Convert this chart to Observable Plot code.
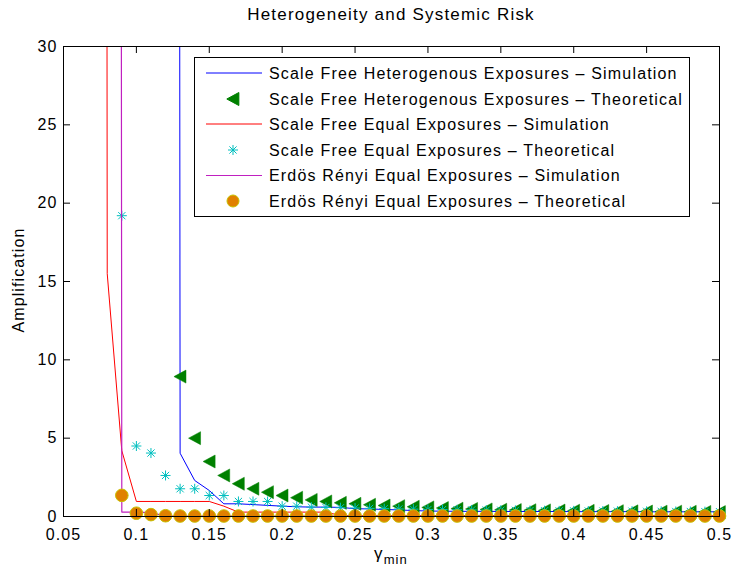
<!DOCTYPE html>
<html><head><meta charset="utf-8">
<script src="https://cdn.jsdelivr.net/npm/d3@7"></script>
<script src="https://cdn.jsdelivr.net/npm/@observablehq/plot@0.6"></script>
<style>
body{margin:0;background:#fff;font-family:"Liberation Sans",Arial,sans-serif;}
#wrap{position:relative;width:733px;height:572px;overflow:hidden;}
#title{position:absolute;left:63px;top:0;width:656px;height:30px;line-height:30px;text-align:center;font-size:17px;letter-spacing:1.2px;color:#000;}
#chart{position:absolute;left:0;top:30px;}
#legend{position:absolute;left:194px;top:57px;}
</style></head><body>
<div id="wrap"><div id="title">Heterogeneity and Systemic Risk</div><div id="chart"></div><svg id="legend" width="497" height="161"></svg></div>
<script>
// ---- data ----
const xTicks = [0.05,0.1,0.15,0.2,0.25,0.3,0.35,0.4,0.45,0.5];
const xTickLabels = ["0.05","0.1","0.15","0.2","0.25","0.3","0.35","0.4","0.45","0.5"];
const yTicks = [0,5,10,15,20,25,30];
const yTickLabels = ["0","5","10","15","20","25","30"];

// Scale Free Heterogenous Exposures - Simulation (blue line); first point is far above the axis
const sfHetSimX = [0.12,0.13,0.14,0.15,0.16,0.17,0.18,0.19,0.20,0.21,0.22,0.23,0.24,0.25,0.26,0.27,0.28,0.29,0.30,0.31,0.32,0.33,0.34,0.35,0.36,0.37,0.38,0.39,0.40,0.41,0.42,0.43,0.44,0.45,0.46,0.47,0.48,0.49,0.50];
const sfHetSimY = [1000,4.04,2.3,1.66,0.81,0.81,0.76,0.71,0.66,0.62,0.6,0.6,0.58,0.5,0.48,0.45,0.42,0.38,0.35,0.34,0.33,0.33,0.33,0.32,0.32,0.32,0.32,0.32,0.31,0.31,0.31,0.31,0.31,0.3,0.3,0.3,0.3,0.3,0.3];

// Scale Free Heterogenous Exposures - Theoretical (green triangles)
const sfHetThX = [0.13,0.14,0.15,0.16,0.17,0.18,0.19,0.20,0.21,0.22,0.23,0.24,0.25,0.26,0.27,0.28,0.29,0.30,0.31,0.32,0.33,0.34,0.35,0.36,0.37,0.38,0.39,0.40,0.41,0.42,0.43,0.44,0.45,0.46,0.47,0.48,0.49,0.50];
const sfHetThY = [8.93,5.0,3.51,2.62,2.09,1.77,1.55,1.34,1.2,1.06,0.96,0.87,0.81,0.75,0.7,0.66,0.62,0.58,0.54,0.5,0.48,0.45,0.43,0.41,0.4,0.39,0.38,0.37,0.36,0.35,0.34,0.33,0.32,0.31,0.31,0.3,0.29,0.28];

// Scale Free Equal Exposures - Simulation (red line)
const sfEqSimX = [0.07,0.08,0.09,0.10,0.11,0.12,0.13,0.14,0.15,0.16,0.17,0.18,0.19,0.20,0.21,0.22,0.23,0.24,0.25,0.26,0.27,0.28,0.29,0.30,0.31,0.32,0.33,0.34,0.35,0.36,0.37,0.38,0.39,0.40,0.41,0.42,0.43,0.44,0.45,0.46,0.47,0.48,0.49,0.50];
const sfEqSimY = [1000,15.5,4.2,0.96,0.96,0.96,0.96,0.96,0.96,0.66,0.28,0.28,0.28,0.28,0.28,0.28,0.28,0.06,0.05,0.05,0.05,0.05,0.05,0.05,0.05,0.05,0.05,0.05,0.05,0.05,0.05,0.05,0.05,0.05,0.05,0.05,0.05,0.05,0.05,0.05,0.05,0.05,0.05,0.05];

// Scale Free Equal Exposures - Theoretical (cyan stars)
const sfEqThX = [0.09,0.10,0.11,0.12,0.13,0.14,0.15,0.16,0.17,0.18,0.19,0.20,0.21,0.22,0.23,0.24,0.25,0.26,0.27,0.28,0.29,0.30,0.31,0.32,0.33,0.34,0.35,0.36,0.37,0.38,0.39,0.40,0.41,0.42,0.43,0.44,0.45,0.46,0.47,0.48,0.49,0.50];
const sfEqThY = [19.2,4.5,4.05,2.62,1.77,1.77,1.34,1.34,0.96,0.96,0.96,0.66,0.66,0.6,0.58,0.56,0.54,0.52,0.5,0.48,0.47,0.45,0.44,0.43,0.42,0.41,0.4,0.39,0.38,0.37,0.36,0.36,0.35,0.35,0.34,0.34,0.33,0.33,0.32,0.32,0.31,0.31];

// Erdos Renyi Equal Exposures - Simulation (purple line)
const erSimX = [0.08,0.09,0.10,0.11,0.12,0.13,0.14,0.15,0.16,0.17,0.18,0.19,0.20,0.21,0.22,0.23,0.24,0.25,0.26,0.27,0.28,0.29,0.30,0.31,0.32,0.33,0.34,0.35,0.36,0.37,0.38,0.39,0.40,0.41,0.42,0.43,0.44,0.45,0.46,0.47,0.48,0.49,0.50];
const erSimY = [1000,0.28,0.28,0.25,0.02,0.02,0.02,0.02,0.02,0.02,0.02,0.02,0.02,0.02,0.02,0.02,0.02,0.02,0.02,0.02,0.02,0.02,0.02,0.02,0.02,0.02,0.02,0.02,0.02,0.02,0.02,0.02,0.02,0.02,0.02,0.02,0.02,0.02,0.02,0.02,0.02,0.02,0.02];

// Erdos Renyi Equal Exposures - Theoretical (orange circles)
const erThX = sfEqThX;
const erThY = [1.35,0.21,0.12,0.05,0.03,0.03,0.03,0.03,0.03,0.03,0.03,0.03,0.03,0.03,0.03,0.03,0.03,0.03,0.03,0.03,0.03,0.03,0.03,0.03,0.03,0.03,0.03,0.03,0.03,0.03,0.03,0.03,0.03,0.03,0.03,0.03,0.03,0.03,0.03,0.03,0.03,0.03];

const seriesNames = [
  "Scale Free Heterogenous Exposures \u2013 Simulation",
  "Scale Free Heterogenous Exposures \u2013 Theoretical",
  "Scale Free Equal Exposures \u2013 Simulation",
  "Scale Free Equal Exposures \u2013 Theoretical",
  "Erd\u00f6s R\u00e9nyi Equal Exposures \u2013 Simulation",
  "Erd\u00f6s R\u00e9nyi Equal Exposures \u2013 Theoretical"
];

// ---- helpers ----
const zip = (xs, ys) => xs.map((x, i) => ({x, y: ys[i]}));
const triLeft = {draw(ctx, size) {
  const r = Math.sqrt(size / Math.PI);
  ctx.moveTo(-r * 0.95, 0); ctx.lineTo(r * 0.9, -r); ctx.lineTo(r * 0.9, r); ctx.closePath();
}};
const star8 = {draw(ctx, size) {
  const r = Math.sqrt(size / Math.PI), d = r * 0.72;
  ctx.moveTo(-r, 0); ctx.lineTo(r, 0); ctx.moveTo(0, -r); ctx.lineTo(0, r);
  ctx.moveTo(-d, -d); ctx.lineTo(d, d); ctx.moveTo(-d, d); ctx.lineTo(d, -d);
}};

const C = {blue: "#0000ff", green: "#008000", red: "#ff0000", cyan: "#00bfbf", purple: "#c020c0", orange: "#e08000", orangeEdge: "#c8c000"};

const W = 733, H = 542, mL = 63, mR = 14, mT = 16, mB = 56;
const pw = W - mL - mR, ph = H - mT - mB, tk = 7;

const plot = Plot.plot({
  width: W, height: H,
  marginLeft: mL, marginRight: mR, marginTop: mT, marginBottom: mB,
  style: {fontFamily: "'Liberation Sans', Arial, sans-serif", fontSize: "16px", letterSpacing: "1.1px", color: "#000", background: "#fff"},
  x: {domain: [0.05, 0.5]},
  y: {domain: [0, 30]},
  marks: [
    Plot.line(zip(sfHetSimX, sfHetSimY), {x: "x", y: "y", stroke: C.blue, strokeWidth: 1, clip: true}),
    Plot.dot(zip(sfHetThX, sfHetThY), {x: "x", y: "y", symbol: triLeft, r: 6.5, fill: C.green, stroke: C.green, strokeWidth: 0.5}),
    Plot.line(zip(sfEqSimX, sfEqSimY), {x: "x", y: "y", stroke: C.red, strokeWidth: 1, clip: true}),
    Plot.dot(zip(sfEqThX, sfEqThY), {x: "x", y: "y", symbol: star8, r: 5, fill: "none", stroke: C.cyan, strokeWidth: 1}),
    Plot.line(zip(erSimX, erSimY), {x: "x", y: "y", stroke: C.purple, strokeWidth: 1.2, clip: true}),
    Plot.dot(zip(erThX, erThY), {x: "x", y: "y", symbol: "circle", r: 6.3, fill: C.orange, stroke: C.orangeEdge, strokeWidth: 1}),
    Plot.frame({stroke: "#000", strokeWidth: 1}),
    Plot.tickX(xTicks, {x: d => d, insetTop: ph - tk, stroke: "#000"}),
    Plot.tickX(xTicks, {x: d => d, insetBottom: ph - tk, stroke: "#000"}),
    Plot.tickY(yTicks, {y: d => d, insetRight: pw - tk, stroke: "#000"}),
    Plot.tickY(yTicks, {y: d => d, insetLeft: pw - tk, stroke: "#000"}),
    Plot.axisX({ticks: xTicks, tickFormat: (d, i) => xTickLabels[xTicks.indexOf(d)], tickSize: 0, tickPadding: 12, label: null}),
    Plot.axisY({ticks: yTicks, tickFormat: d => yTickLabels[yTicks.indexOf(d)], tickSize: 0, tickPadding: 6, label: null})
  ]
});
document.getElementById("chart").appendChild(plot);

// axis titles (real text)
const svg = d3.select(plot);
const xl = svg.append("text").attr("x", mL + pw / 2).attr("y", 559 - 30).attr("text-anchor", "middle")
  .attr("fill", "#000").style("font-size", "17px");
xl.append("tspan").text("\u03b3");
xl.append("tspan").attr("dy", 5).style("font-size", "13px").text("min");
svg.append("text").attr("transform", `translate(24,${mT + ph / 2 - 1}) rotate(-90)`).attr("text-anchor", "middle")
  .attr("fill", "#000").style("font-size", "16px").text("Amplification");

// ---- legend ----
const lg = d3.select("#legend");
lg.append("rect").attr("x", 0.5).attr("y", 0.5).attr("width", 495).attr("height", 159).attr("fill", "#fff").attr("stroke", "#000");
const rowY = [16, 42, 67, 93, 118.5, 144];
const kinds = [
  {type: "line", color: C.blue},
  {type: "sym", sym: triLeft, r: 6.5, fill: C.green, stroke: C.green},
  {type: "line", color: C.red},
  {type: "sym", sym: star8, r: 5, fill: "none", stroke: C.cyan},
  {type: "line", color: C.purple},
  {type: "sym", sym: d3.symbolCircle, r: 6, fill: C.orange, stroke: C.orangeEdge}
];
kinds.forEach((k, i) => {
  const y = rowY[i];
  if (k.type === "line") {
    lg.append("line").attr("x1", 12).attr("x2", 68).attr("y1", y).attr("y2", y).attr("stroke", k.color).attr("stroke-width", 1);
  } else {
    lg.append("path").attr("transform", `translate(39,${y})`)
      .attr("d", d3.symbol(k.sym, Math.PI * k.r * k.r)())
      .attr("fill", k.fill).attr("stroke", k.stroke).attr("stroke-width", 1);
  }
  lg.append("text").attr("x", 75).attr("y", y).attr("dy", "0.35em").attr("fill", "#000")
    .style("font-family", "'Liberation Sans', Arial, sans-serif").style("font-size", "16px").style("letter-spacing", "1.17px")
    .text(seriesNames[i]);
});
</script>
</body></html>
